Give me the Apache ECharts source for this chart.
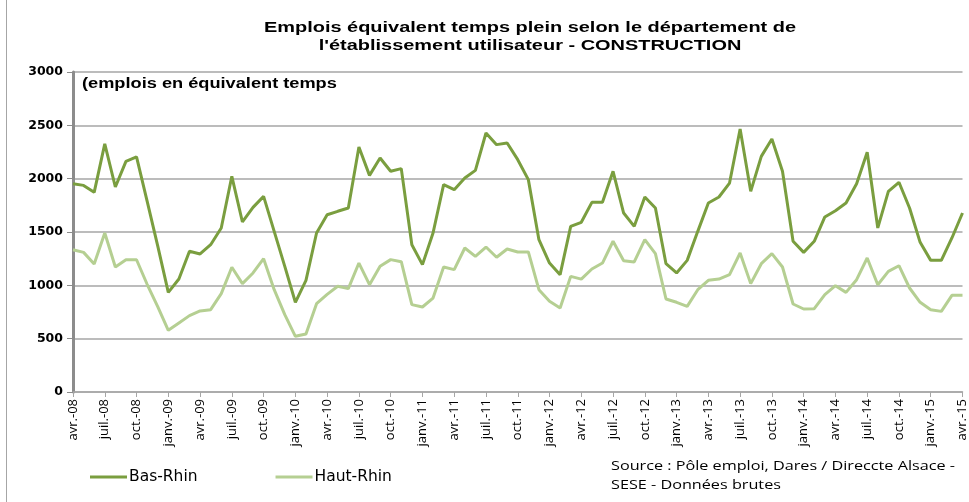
<!DOCTYPE html>
<html lang="fr">
<head>
    <meta charset="UTF-8">
    <title>Emplois ETP - Construction</title>
    <style>
        html, body, #main {
            width: 100%;
            height: 100%;
            margin: 0;
            padding: 0;
            background: #ffffff;
        }
    </style>
    <script src="https://cdn.jsdelivr.net/npm/echarts@6/dist/echarts.min.js"></script>
</head>
<body>
    <div id="main"></div>
    <script>
        // mois (avr.-08 -> avr.-15)
        const monthNames = ['janv.', 'févr.', 'mars', 'avr.', 'mai', 'juin', 'juil.', 'août', 'sept.', 'oct.', 'nov.', 'déc.'];
        const months = [];
        for (let i = 0; i < 85; i++) {
            const m = (3 + i) % 12;
            const y = 8 + Math.floor((3 + i) / 12);
            months.push(monthNames[m] + '-' + String(y).padStart(2, '0'));
        }

        const basRhin = [
            1953, 1937, 1872, 2326, 1922, 2162, 2204, 1790, 1370, 934, 1059, 1319,
            1294, 1381, 1537, 2022, 1594, 1731, 1834, 1506, 1178, 841, 1047, 1491,
            1662, 1694, 1725, 2297, 2031, 2194, 2069, 2094, 1381, 1194, 1491, 1944,
            1897, 2006, 2078, 2428, 2319, 2334, 2178, 1991, 1428, 1209, 1100, 1553,
            1591, 1778, 1778, 2069, 1678, 1553, 1828, 1725, 1203, 1116, 1234, 1506,
            1772, 1828, 1959, 2466, 1881, 2209, 2372, 2069, 1413, 1309, 1413, 1641,
            1700, 1772, 1953, 2247, 1538, 1881, 1966, 1725, 1403, 1234, 1234, 1444,
            1678
        ];
        const hautRhin = [
            1334, 1309, 1200, 1490, 1172, 1240, 1240, 1010, 800, 578, 647, 716,
            760, 772, 922, 1169, 1016, 1116, 1250, 959, 725, 522, 544, 828,
            915, 991, 969, 1209, 1006, 1178, 1241, 1222, 819, 797, 881, 1172,
            1147, 1350, 1272, 1359, 1263, 1341, 1313, 1313, 959, 850, 788, 1084,
            1058, 1153, 1209, 1413, 1231, 1219, 1428, 1297, 872, 841, 803, 959,
            1047, 1059, 1100, 1303, 1016, 1203, 1297, 1172, 825, 778, 781, 913,
            997, 934, 1053, 1256, 1006, 1131, 1184, 975, 841, 772, 756, 906,
            906
        ];

        const chart = echarts.init(document.getElementById('main'));

        const option = {
            animation: false,
            legend: {
                left: 85,
                top: 464,
                itemGap: 78,
                itemWidth: 37,
                itemHeight: 3,
                icon: 'rect',
                textStyle: {
                    fontFamily: 'DejaVu Sans',
                    fontSize: 15.5,
                    color: '#000',
                    padding: [0, 0, 0, -3]
                },
                data: ['Bas-Rhin', 'Haut-Rhin']
            },
            grid: {
                left: 73,
                right: 5,
                top: 72,
                bottom: 110
            },
            xAxis: {
                type: 'category',
                boundaryGap: false,
                data: months,
                axisLine: { lineStyle: { color: '#a6a6a6', width: 1.5 } },
                axisTick: { interval: 2, length: 5, lineStyle: { color: '#a6a6a6' } },
                axisLabel: {
                    interval: 2,
                    rotate: 90,
                    margin: 7,
                    fontFamily: 'Open Sans',
                    fontSize: 13,
                    color: '#000'
                },
                splitLine: { show: false }
            },
            yAxis: {
                type: 'value',
                min: 0,
                max: 3000,
                interval: 500,
                axisLine: { show: true, lineStyle: { color: '#8c8c8c', width: 3 } },
                axisTick: { show: true, length: 6, lineStyle: { color: '#8c8c8c' } },
                axisLabel: {
                    margin: 10,
                    formatter: function (v) { return String(v); },
                    fontFamily: 'DejaVu Sans',
                    fontWeight: 'bold',
                    fontSize: 12.5,
                    color: '#000'
                },
                splitLine: { lineStyle: { color: '#a6a6a6', width: 1.5 } }
            },
            graphic: [
                {
                    type: 'text',
                    x: 530,
                    y: 19,
                    scaleX: 1.33,
                    style: {
                        text: 'Emplois équivalent temps plein selon le département de\nl\'établissement utilisateur - CONSTRUCTION',
                        font: 'bold 15px "Liberation Sans"',
                        lineHeight: 18,
                        textAlign: 'center',
                        textVerticalAlign: 'top',
                        fill: '#000'
                    }
                },
                {
                    type: 'text',
                    x: 82,
                    y: 77,
                    scaleX: 1.3,
                    style: {
                        text: '(emplois en équivalent temps',
                        font: 'bold 14px "Liberation Sans"',
                        textVerticalAlign: 'top',
                        fill: '#000'
                    }
                },
                {
                    type: 'text',
                    x: 611,
                    y: 457,
                    scaleX: 1.2,
                    style: {
                        text: 'Source : Pôle emploi, Dares / Direccte Alsace -\nSESE - Données brutes',
                        font: '13.5px "Open Sans"',
                        lineHeight: 19,
                        textVerticalAlign: 'top',
                        fill: '#000'
                    }
                },
                {
                    type: 'line',
                    shape: { x1: 6.5, y1: 0, x2: 6.5, y2: 502 },
                    style: { stroke: '#a6a6a6', lineWidth: 1 }
                }
            ],
            series: [
                {
                    name: 'Bas-Rhin',
                    type: 'line',
                    data: basRhin,
                    symbol: 'none',
                    lineStyle: { color: '#7a9e3f', width: 3 },
                    itemStyle: { color: '#7a9e3f' }
                },
                {
                    name: 'Haut-Rhin',
                    type: 'line',
                    data: hautRhin,
                    symbol: 'none',
                    lineStyle: { color: '#b5cf92', width: 3 },
                    itemStyle: { color: '#b5cf92' }
                }
            ]
        };

        chart.setOption(option);
    </script>
</body>
</html>
